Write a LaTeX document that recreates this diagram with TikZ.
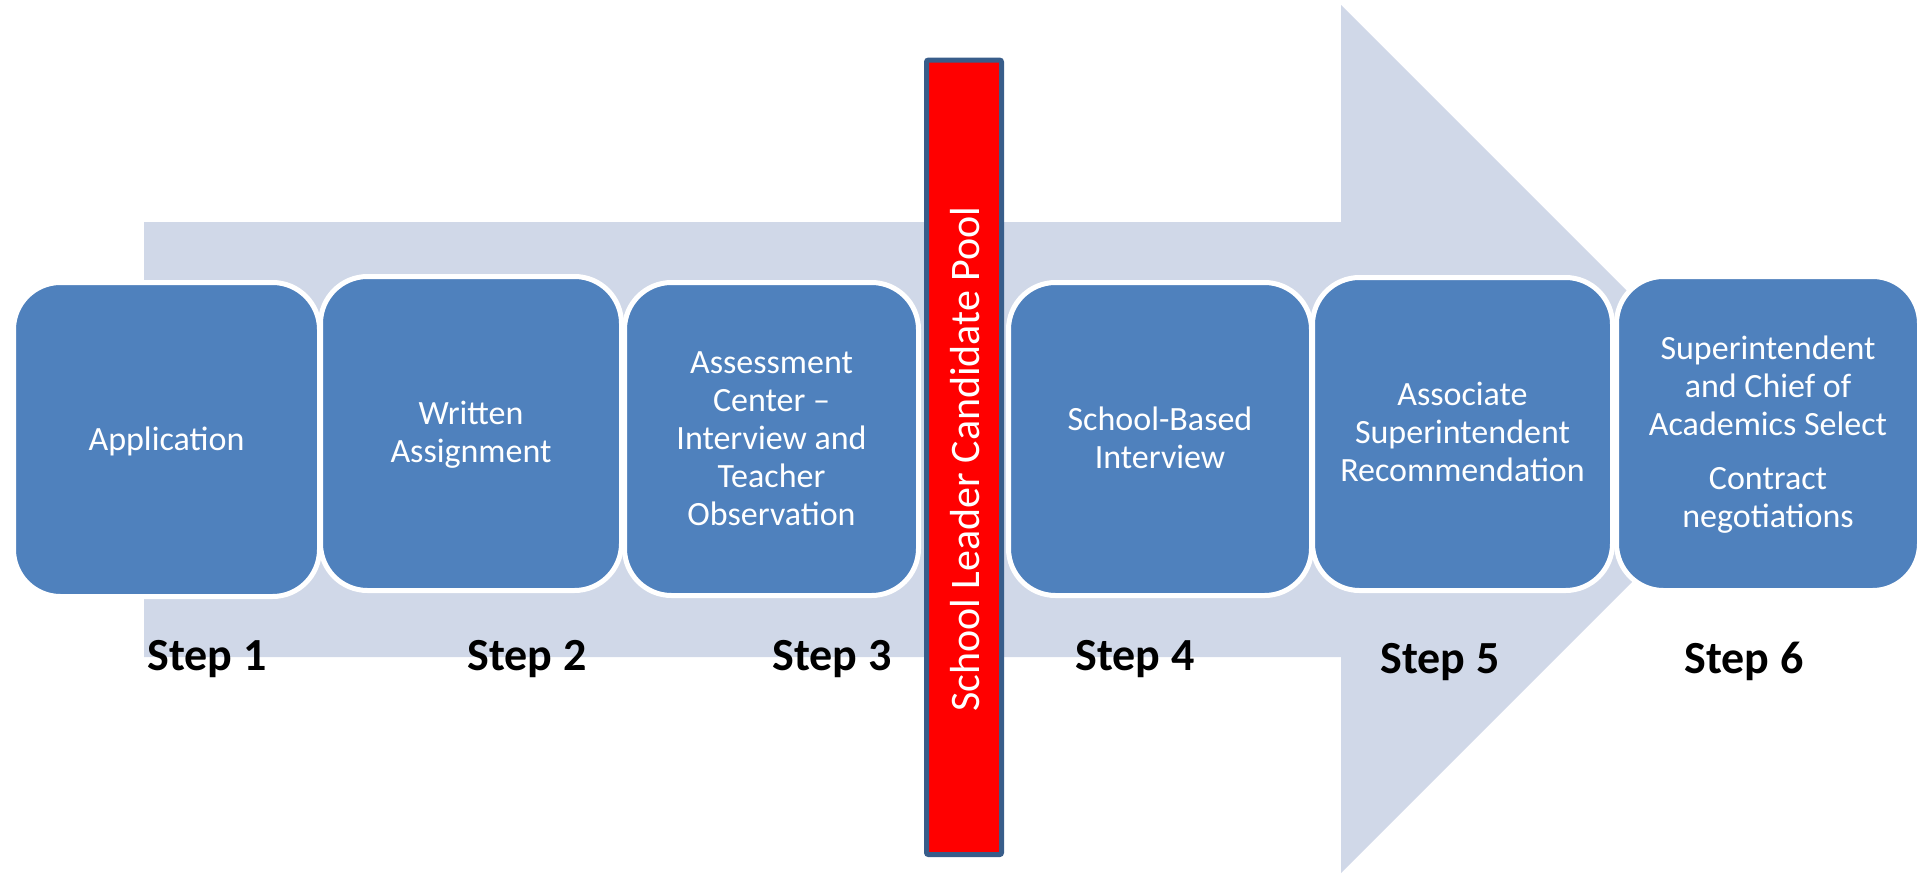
\documentclass[tikz,border=0pt]{standalone}
\usepackage{fontspec}
\setmainfont{Carlito}
\definecolor{boxblue}{RGB}{79,129,189}
\definecolor{arrowfill}{RGB}{208,216,232}
\definecolor{barline}{RGB}{56,93,138}
\begin{document}
\begin{tikzpicture}[x=1pt,y=-1pt,
  stepbox/.style={draw=white, line width=5pt, fill=boxblue, rounded corners=47pt, inner sep=0pt, rectangle},
  boxtext/.style={text=white, align=center, inner sep=0pt, font=\fontsize{34}{38}\selectfont},
  steplabel/.style={anchor=base, inner sep=0pt, font=\fontsize{46}{50}\selectfont\bfseries, text=black},
  poolbar/.style={draw=barline, line width=5pt, fill=red, inner sep=0pt, rounded corners=2pt, rectangle}]
\path[use as bounding box] (0,0) rectangle (1920,873);
\clip (0,0) rectangle (1920,873);
% big background arrow
\fill[arrowfill] (144,222) -- (1341,222) -- (1341,5) -- (1775,439) -- (1341,873) -- (1341,657) -- (144,657) -- cycle;
% boxes
\node[stepbox, minimum width=306pt, minimum height=314pt] (b1) at (166.5,439.5) {};
\node[stepbox, minimum width=301pt, minimum height=314pt] (b2) at (471,433.5) {};
\node[stepbox, minimum width=294pt, minimum height=313pt] (b3) at (771.5,439) {};
\node[stepbox, minimum width=303pt, minimum height=313pt] (b4) at (1160,439) {};
\node[stepbox, minimum width=300pt, minimum height=313pt] (b5) at (1462.5,434) {};
\node[stepbox, minimum width=303pt, minimum height=314pt] (b6) at (1768,433.5) {};
% red bar
\node[poolbar, minimum width=75pt, minimum height=794.5pt] (pool) at (964,457.3) {};
\node[rotate=90, anchor=base, text=white, inner sep=0pt, font=\fontsize{42}{46}\selectfont] (poolt) at (979,459) {School Leader Candidate Pool};
% box texts
\node[boxtext] (t1) at (166.5,442.5) {\strut Application};
\node[boxtext] (t2) at (471,436) {\strut Written\\\strut Assignment};
\node[boxtext] (t3) at (771.5,441.5) {\strut Assessment\\\strut Center –\\\strut Interview and\\\strut Teacher\\\strut Observation};
\node[boxtext] (t4) at (1160,442) {\strut School-Based\\\strut Interview};
\node[boxtext] (t5) at (1462.5,435.5) {\strut Associate\\\strut Superintendent\\\strut Recommendation};
\node[boxtext] (t6) at (1768,436) {\strut Superintendent\\\strut and Chief of\\\strut Academics Select\\[16pt]\strut Contract\\\strut negotiations};
% step labels
\node[steplabel] (s1) at (207,670) {Step 1};
\node[steplabel] (s2) at (527,670) {Step 2};
\node[steplabel] (s3) at (832,670) {Step 3};
\node[steplabel] (s4) at (1135,670) {Step 4};
\node[steplabel] (s5) at (1440,673) {Step 5};
\node[steplabel] (s6) at (1744,673) {Step 6};
\end{tikzpicture}
\end{document}
